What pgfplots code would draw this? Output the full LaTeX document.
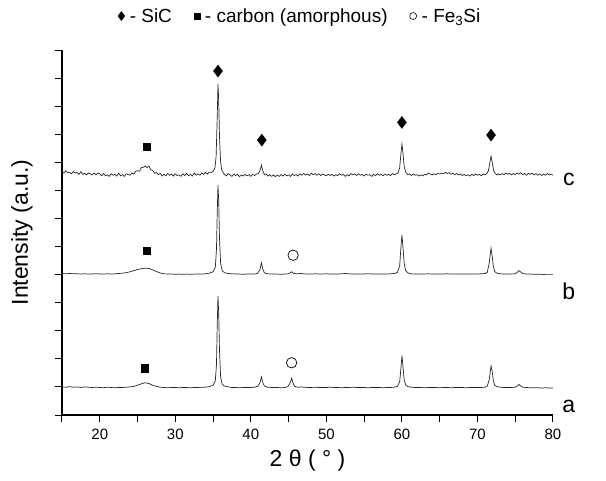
\documentclass[border=0pt]{standalone}
\usepackage{fontspec}
\setmainfont{Liberation Sans}
\usepackage{pgfplots}
\pgfplotsset{compat=1.18}

% XRD patterns a, b, c (offset vertically)
\pgfplotstableread{
x y
15 1.00
15.5 0.99
16 1.01
16.5 0.99
17 1.00
17.5 0.98
18 1.00
18.5 0.99
19 0.98
19.5 0.99
20 0.98
20.5 0.97
21 0.99
21.5 0.98
22 0.97
22.5 0.98
23 0.98
23.5 0.99
24 1.00
24.5 1.02
25 1.06
25.5 1.11
26 1.15
26.5 1.12
27 1.06
27.5 1.02
28 0.99
28.5 0.98
29 0.97
29.5 0.98
30 0.98
30.5 0.97
31 0.98
31.5 0.98
32 0.97
32.5 0.98
33 0.98
33.5 0.99
34 0.99
34.5 1.01
35 1.06
35.3 1.22
35.45 1.8
35.55 3.2
35.65 4.24
35.75 3.6
35.85 2.3
36.0 1.35
36.2 1.10
36.5 1.03
37 1.00
37.5 0.98
38 0.98
38.5 0.97
39 0.98
39.5 0.98
40 0.98
40.5 0.99
40.9 1.02
41.2 1.14
41.4 1.36
41.6 1.14
41.8 1.03
42.2 0.99
42.8 0.98
43.5 0.98
44 0.97
44.5 0.98
44.9 1.01
45.2 1.14
45.4 1.31
45.6 1.13
45.8 1.02
46.2 0.99
46.6 1.00
47 0.99
47.5 0.98
48 0.98
48.5 0.99
49 0.98
49.5 0.98
50 0.98
50.5 0.99
51 0.98
51.5 0.98
52 0.97
52.5 0.98
53 0.98
53.5 0.99
54 0.98
54.5 0.98
55 0.98
55.5 0.97
56 0.98
56.5 0.98
57 0.98
57.5 0.97
58 0.98
58.5 0.98
59 0.99
59.4 1.02
59.7 1.18
59.85 1.6
60.0 2.11
60.15 1.7
60.3 1.25
60.5 1.07
60.8 1.01
61.2 0.99
61.8 0.98
62.5 0.98
63 0.97
63.5 0.98
64 0.98
64.5 0.98
65 0.97
65.5 0.98
66 0.98
66.5 0.97
67 0.98
67.5 0.98
68 0.98
68.5 0.97
69 0.98
69.5 0.98
70 0.98
70.5 0.98
71 0.99
71.3 1.03
71.55 1.25
71.8 1.75
71.95 1.55
72.1 1.22
72.3 1.06
72.6 1.01
73 0.99
73.5 0.98
74 0.98
74.5 0.98
75 0.99
75.3 1.04
75.5 1.09
75.7 1.04
76 0.99
76.5 0.98
77 0.97
77.5 0.97
78 0.97
78.5 0.96
79 0.97
79.5 0.96
80 0.96
}\traceA

\pgfplotstableread{
x y
15 5.04
15.5 5.03
16 5.04
16.5 5.03
17 5.03
17.5 5.02
18 5.03
18.5 5.02
19 5.02
19.5 5.03
20 5.02
20.5 5.02
21 5.03
21.5 5.02
22 5.03
22.5 5.04
23 5.05
23.5 5.07
24 5.10
24.5 5.14
25 5.18
25.5 5.21
26 5.23
26.5 5.22
27 5.17
27.5 5.11
28 5.06
28.5 5.03
29 5.02
29.5 5.02
30 5.01
30.5 5.02
31 5.01
31.5 5.02
32 5.01
32.5 5.02
33 5.02
33.5 5.02
34 5.03
34.5 5.05
35 5.10
35.3 5.27
35.45 5.9
35.55 7.2
35.65 8.19
35.75 7.6
35.85 6.3
36.0 5.40
36.2 5.15
36.5 5.07
37 5.04
37.5 5.03
38 5.02
38.5 5.02
39 5.01
39.5 5.02
40 5.02
40.5 5.02
40.9 5.05
41.2 5.18
41.4 5.42
41.6 5.18
41.8 5.06
42.2 5.03
42.8 5.02
43.5 5.02
44 5.01
44.5 5.02
45 5.03
45.4 5.10
45.7 5.04
46.1 5.03
46.6 5.04
47 5.03
47.5 5.02
48 5.02
48.5 5.03
49 5.02
49.5 5.02
50 5.03
50.5 5.02
51 5.02
51.5 5.02
52 5.03
52.5 5.04
53 5.03
53.5 5.02
54 5.02
54.5 5.02
55 5.02
55.5 5.03
56 5.02
56.5 5.02
57 5.02
57.5 5.02
58 5.02
58.5 5.03
59 5.04
59.4 5.08
59.7 5.30
59.85 5.9
60.0 6.41
60.15 5.95
60.3 5.40
60.5 5.14
60.8 5.06
61.2 5.03
61.8 5.02
62.5 5.02
63 5.02
63.5 5.03
64 5.02
64.5 5.02
65 5.02
65.5 5.02
66 5.03
66.5 5.02
67 5.02
67.5 5.02
68 5.02
68.5 5.02
69 5.02
69.5 5.02
70 5.02
70.5 5.03
71 5.04
71.3 5.08
71.55 5.40
71.8 5.94
71.95 5.65
72.1 5.30
72.3 5.10
72.6 5.05
73 5.03
73.5 5.02
74 5.02
74.5 5.02
75 5.03
75.3 5.09
75.5 5.14
75.7 5.10
76 5.04
76.5 5.02
77 5.02
77.5 5.01
78 5.01
78.5 5.01
79 5.00
79.5 5.00
80 5.00
}\traceB

\pgfplotstableread{
x y
15.00 8.69
15.25 8.62
15.50 8.70
15.75 8.63
16.00 8.64
16.25 8.59
16.50 8.67
16.75 8.62
17.00 8.64
17.25 8.57
17.50 8.67
17.75 8.57
18.00 8.61
18.25 8.55
18.50 8.62
18.75 8.59
19.00 8.55
19.25 8.62
19.50 8.55
19.75 8.62
20.00 8.59
20.25 8.52
20.50 8.60
20.75 8.53
21.00 8.55
21.25 8.50
21.50 8.59
21.75 8.54
22.00 8.57
22.25 8.51
22.50 8.61
22.75 8.52
23.00 8.56
23.25 8.50
23.50 8.59
23.75 8.56
24.00 8.54
24.25 8.62
24.50 8.58
24.75 8.68
25.00 8.70
25.25 8.68
25.50 8.81
25.75 8.82
26.00 8.87
26.25 8.81
26.50 8.86
26.75 8.74
27.00 8.71
27.25 8.61
27.50 8.64
27.75 8.56
28.00 8.61
28.25 8.51
28.50 8.58
28.75 8.52
29.00 8.60
29.25 8.54
29.50 8.58
29.75 8.51
30.00 8.59
30.25 8.53
30.50 8.55
30.75 8.50
31.00 8.59
31.25 8.53
31.50 8.60
31.75 8.52
32.00 8.57
32.25 8.51
32.50 8.62
32.75 8.54
33.00 8.59
33.25 8.54
33.50 8.62
33.75 8.57
34.00 8.64
34.25 8.58
34.50 8.65
34.75 8.64
35.00 8.68
35.25 8.80
35.40 9.20
35.55 10.60
35.65 11.79
35.75 11.20
35.85 9.90
36.00 9.00
36.15 8.72
36.35 8.62
36.50 8.57
36.75 8.52
37.00 8.60
37.25 8.55
37.50 8.50
37.75 8.58
38.00 8.53
38.25 8.57
38.50 8.49
38.75 8.55
39.00 8.51
39.25 8.57
39.50 8.52
39.75 8.56
40.00 8.50
40.25 8.57
40.50 8.53
40.75 8.58
41.00 8.60
41.20 8.70
41.40 8.90
41.60 8.68
41.80 8.56
42.00 8.58
42.25 8.51
42.50 8.56
42.75 8.50
43.00 8.55
43.25 8.49
43.50 8.54
43.75 8.50
44.00 8.56
44.25 8.51
44.50 8.57
44.75 8.52
45.00 8.55
45.25 8.50
45.50 8.58
45.75 8.53
46.00 8.56
46.25 8.51
46.50 8.59
46.75 8.54
47.00 8.60
47.25 8.55
47.50 8.58
47.75 8.53
48.00 8.61
48.25 8.56
48.50 8.60
48.75 8.54
49.00 8.59
49.25 8.53
49.50 8.58
49.75 8.55
50.00 8.52
50.25 8.58
50.50 8.53
50.75 8.57
51.00 8.51
51.25 8.56
51.50 8.52
51.75 8.59
52.00 8.54
52.25 8.57
52.50 8.50
52.75 8.56
53.00 8.52
53.25 8.60
53.50 8.55
53.75 8.58
54.00 8.53
54.25 8.59
54.50 8.54
54.75 8.57
55.00 8.51
55.25 8.58
55.50 8.54
55.75 8.56
56.00 8.50
56.25 8.57
56.50 8.53
56.75 8.59
57.00 8.54
57.25 8.57
57.50 8.52
57.75 8.58
58.00 8.54
58.25 8.57
58.50 8.53
58.75 8.60
59.00 8.56
59.25 8.59
59.50 8.62
59.70 8.80
59.85 9.25
60.00 9.65
60.15 9.30
60.30 8.85
60.50 8.65
60.75 8.56
61.00 8.59
61.25 8.53
61.50 8.58
61.75 8.54
62.00 8.56
62.25 8.51
62.50 8.55
62.75 8.52
63.00 8.57
63.25 8.55
63.50 8.62
63.75 8.58
64.00 8.55
64.25 8.59
64.50 8.56
64.75 8.61
65.00 8.58
65.25 8.62
65.50 8.59
65.75 8.64
66.00 8.60
66.25 8.63
66.50 8.58
66.75 8.61
67.00 8.56
67.25 8.60
67.50 8.55
67.75 8.58
68.00 8.53
68.25 8.57
68.50 8.52
68.75 8.56
69.00 8.51
69.25 8.57
69.50 8.53
69.75 8.58
70.00 8.54
70.25 8.57
70.50 8.52
70.75 8.58
71.00 8.56
71.25 8.60
71.45 8.70
71.65 9.00
71.80 9.22
71.95 9.00
72.15 8.70
72.35 8.60
72.60 8.55
72.75 8.59
73.00 8.55
73.25 8.60
73.50 8.56
73.75 8.62
74.00 8.57
74.25 8.61
74.50 8.55
74.75 8.60
75.00 8.56
75.25 8.62
75.50 8.58
75.75 8.63
76.00 8.56
76.25 8.60
76.50 8.54
76.75 8.61
77.00 8.57
77.25 8.62
77.50 8.55
77.75 8.60
78.00 8.54
78.25 8.59
78.50 8.53
78.75 8.58
79.00 8.54
79.25 8.60
79.50 8.55
79.75 8.58
80.00 8.54
}\traceC

\begin{document}
\begin{tikzpicture}
\begin{axis}[
  scale only axis,
  width=491pt, height=365pt,
  xmin=15, xmax=80, ymin=0, ymax=13,
  axis x line*=bottom, axis y line*=left,
  axis line style={line width=1.1pt},
  xtick={20,30,...,80}, minor xtick={15,25,...,75},
  ytick={0,...,13}, yticklabels={},
  tick align=outside,
  major tick length=7pt, minor tick length=7pt,
  every tick/.style={black, line width=1pt},
  /pgf/number format/assume math mode=true,
  tick label style={font=\fontsize{15}{15}\selectfont},
  xticklabel style={yshift=-3pt},
  xlabel={2 θ ( ° )},
  ylabel={Intensity (a.u.)},
  xlabel style={font=\fontsize{23}{23}\selectfont, at={(axis description cs:0.5,-0.126)}, anchor=center},
  ylabel style={font=\fontsize{23}{23}\selectfont, at={(axis description cs:-0.0815,0.5)}, anchor=center},
  clip=false,
  legend columns=3,
  legend style={draw=none, fill=none, at={(axis description cs:0.485,1.093)}, anchor=center,
    font=\fontsize{19}{19}\selectfont,
    /tikz/every even column/.append style={column sep=20pt}},
  legend image code/.code={\draw[#1] plot coordinates {(0.12cm,0cm)};},
]
\coordinate (o) at (rel axis cs:0,0);

\addlegendimage{only marks, mark=diamond*, mark size=4.5pt, black}
\addlegendentry{\hspace{3pt}- SiC}
\addlegendimage{only marks, mark=square*, mark size=3pt, black}
\addlegendentry{\hspace{3pt}- carbon (amorphous)}
\addlegendimage{only marks, mark=o, mark size=3.5pt, black, mark options={line width=0.6pt}}
\addlegendentry{\hspace{3pt}- Fe\textsubscript{3}Si}

\addplot[forget plot, black!85, line width=0.7pt] table {\traceA};
\addplot[forget plot, black!85, line width=0.7pt] table {\traceB};
\addplot[forget plot, black!85, line width=0.7pt] table {\traceC};

% phase markers
\addplot[forget plot, only marks, mark=diamond*, mark size=6pt, black]
  coordinates {(35.65,12.25) (41.45,9.79) (60.0,10.42) (71.8,9.97)};
\addplot[forget plot, only marks, mark=square*, mark size=3.6pt, black]
  coordinates {(26.2,9.55) (26.2,5.84) (26.0,1.67)};
\addplot[forget plot, only marks, mark=*, mark size=5.2pt, black, fill=white, mark options={line width=0.7pt}]
  coordinates {(45.6,5.69) (45.4,1.86)};

\node[font=\fontsize{23}{23}\selectfont] at (axis cs:82.1,0.32) {a};
\node[font=\fontsize{23}{23}\selectfont] at (axis cs:82.1,4.4) {b};
\node[font=\fontsize{23}{23}\selectfont] at (axis cs:82.1,8.4) {c};
\end{axis}
\pgfresetboundingbox
\path (o) ++(-62pt,-65pt) rectangle ++(606pt,480pt);
\end{tikzpicture}
\end{document}
